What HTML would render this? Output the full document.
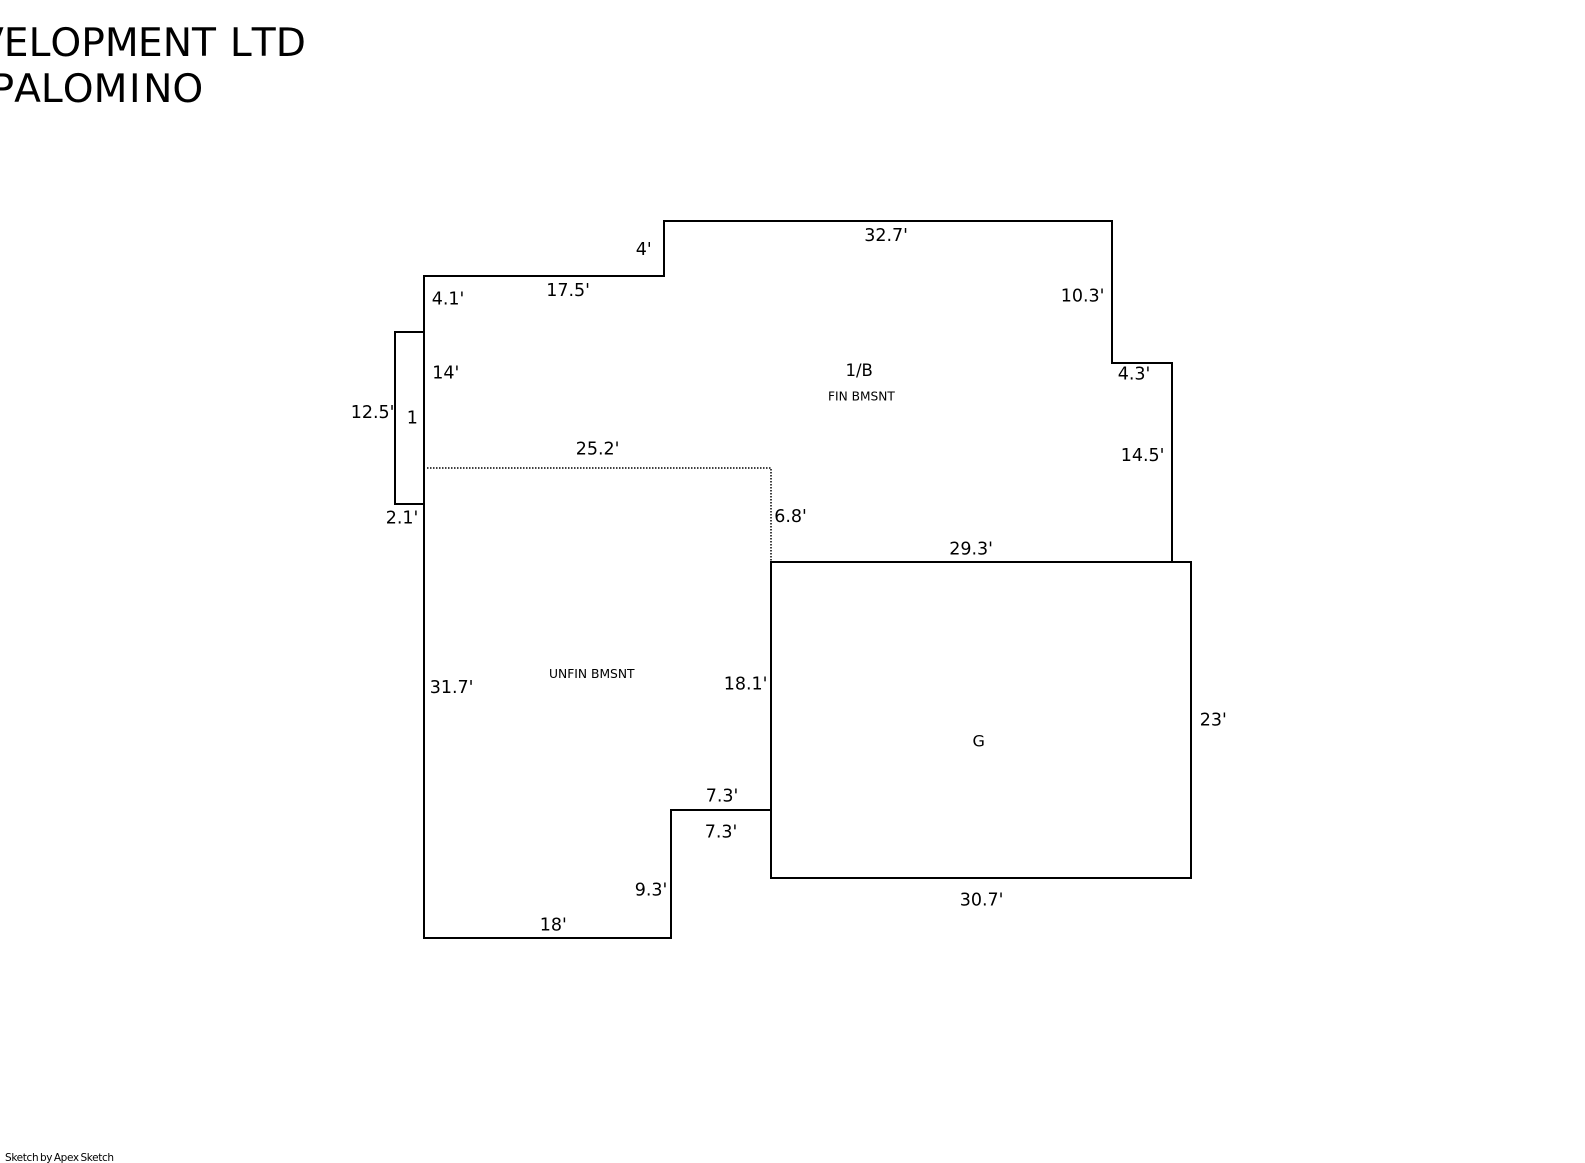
<!DOCTYPE html>
<html>
<head>
<meta charset="utf-8">
<style>
html,body{margin:0;padding:0;background:#fff;width:1585px;height:1163px;overflow:hidden}
svg{display:block}
text{font-family:"DejaVu Sans","Liberation Sans",sans-serif;fill:#000}
.d{font-size:17.5px}
</style>
</head>
<body>
<svg width="1585" height="1163" viewBox="0 0 1585 1163" xmlns="http://www.w3.org/2000/svg">
<rect width="1585" height="1163" fill="#fff"/>
<text y="56" font-size="39.2" x="-23 3.8 28.6 50.4 81.3 104.9 137.9 162.7 192 216.1 229.9 251.7 275.8">VELOPMENT LTD</text>
<text y="102" font-size="39.2" x="-9.5 14.1 40.9 62.7 93.6 129 143.1 172.4">PALOMINO</text>
<g fill="none" stroke="#000" stroke-width="2">
<path d="M771 810H671V938H424V276H664V221H1112V363H1172V562"/>
<rect x="771" y="562" width="420" height="316"/>
<path d="M424 332H395V504H424"/>
</g>
<path d="M427 468H771V561" fill="none" stroke="#000" stroke-width="1.500" stroke-dasharray="1.500 1.500"/>
<g class="d" transform="translate(0.700 -0.600)">
<text x="635" y="255.500">4'</text>
<text x="863.500" y="241.500">32.7'</text>
<text x="545.500" y="296.500">17.5'</text>
<text x="431" y="305">4.1'</text>
<text x="1060" y="302">10.3'</text>
<text x="431.500" y="379">14'</text>
<text x="1117" y="380">4.3'</text>
<text x="350" y="418.500">12.5'</text>
<text x="406" y="424">1</text>
<text x="575" y="455">25.2'</text>
<text x="1120" y="461.500">14.5'</text>
<text x="385" y="524">2.1'</text>
<text x="773.500" y="522.500">6.8'</text>
<text x="948.500" y="555">29.3'</text>
<text x="429" y="693.500">31.7'</text>
<text x="723" y="690">18.1'</text>
<text x="1199" y="726">23'</text>
<text x="705" y="802">7.3'</text>
<text x="704" y="838">7.3'</text>
<text x="634" y="896">9.3'</text>
<text x="959" y="906">30.7'</text>
<text x="539" y="931">18'</text>
</g>
<text x="845.500" y="376" font-size="16.500">1/B</text>
<text x="828" y="400.500" font-size="12.200">FIN BMSNT</text>
<text x="549" y="678" font-size="12.300">UNFIN BMSNT</text>
<text x="972.500" y="746.500" font-size="16">G</text>
<text x="5" y="1161" font-size="10.500" letter-spacing="-0.350" word-spacing="-1.300">Sketch by Apex Sketch</text>
</svg>
</body>
</html>
